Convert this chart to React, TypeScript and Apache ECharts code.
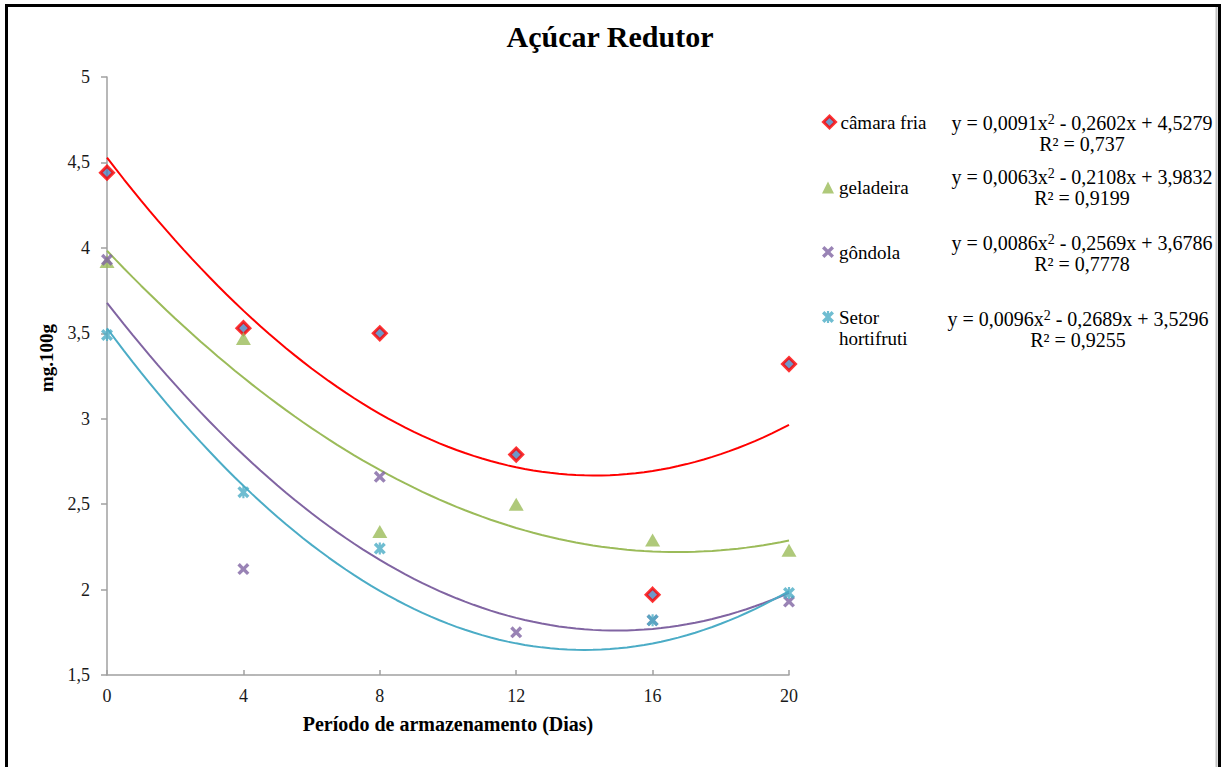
import React, { useEffect, useRef } from "react";
import * as echarts from "echarts";

// Storage period in days
const days = [0, 4, 8, 12, 16, 20];

// Reducing sugar (mg.100g) per storage condition
const camaraFria = [4.44, 3.53, 3.5, 2.79, 1.97, 3.32];
const geladeira = [3.92, 3.47, 2.34, 2.5, 2.29, 2.23];
const gondola = [3.93, 2.12, 2.66, 1.75, 1.82, 1.93];
const setorHortifruti = [3.49, 2.57, 2.24, 1.38, 1.82, 1.98];

// Quadratic trend coefficients [a, b, c] for y = a·x² + b·x + c, with R²
const trendCamara = [0.0091, -0.2602, 4.5279];
const trendGeladeira = [0.0063, -0.2108, 3.9832];
const trendGondola = [0.0086, -0.2569, 3.6786];
const trendSetor = [0.0096, -0.2689, 3.5296];
const r2Values = ["0,737", "0,9199", "0,7778", "0,9255"];

const seriesNames = ["câmara fria", "geladeira", "gôndola", "Setor hortifruti"];
const yTicks = [1.5, 2, 2.5, 3, 3.5, 4, 4.5, 5];

const FONT = "Liberation Serif";
const COLORS = ["#ff0000", "#9bbb59", "#8064a2", "#4bacc6"];

// Marker shapes
const X_PATH =
  "path://M0,2 L2,0 L5,3 L8,0 L10,2 L7,5 L10,8 L8,10 L5,7 L2,10 L0,8 L3,5 Z";
const STAR_PATH =
  "path://M0,2 L2,0 L5,3 L8,0 L10,2 L7,5 L10,8 L8,10 L5,7 L2,10 L0,8 L3,5 Z M4.1,0 L5.9,0 L5.9,10 L4.1,10 Z";

const fmt = (v: number, digits: number) => v.toFixed(digits).replace(".", ",");

function trendPoints(coef: number[]): number[][] {
  const pts: number[][] = [];
  for (let i = 0; i <= 80; i++) {
    const x = (i * 20) / 80;
    pts.push([x, coef[0] * x * x + coef[1] * x + coef[2]]);
  }
  return pts;
}

function equationRich(coef: number[]): string {
  const a = fmt(coef[0], 4);
  const b = fmt(Math.abs(coef[1]), 4);
  const c = fmt(coef[2], 4);
  return `{n|y = ${a}x}{s|2}{n| - ${b}x + ${c}}`;
}

export default function App() {
  const ref = useRef<HTMLDivElement>(null);

  useEffect(() => {
    if (!ref.current) return;
    const chart = echarts.init(ref.current, undefined, { renderer: "svg" });

    const pairs = (vals: number[]) => days.map((d, i) => [d, vals[i]]);
    const dataSets = [camaraFria, geladeira, gondola, setorHortifruti];
    const trends = [trendCamara, trendGeladeira, trendGondola, trendSetor];

    const markerStyles: any[] = [
      {
        symbol: "diamond",
        symbolSize: 13,
        itemStyle: { color: "#4a7ebb", borderColor: "#ff0000", borderWidth: 3 },
      },
      { symbol: "triangle", symbolSize: [15, 13], itemStyle: { color: "#9bbb59" } },
      { symbol: X_PATH, symbolSize: 12, itemStyle: { color: "#8064a2" } },
      { symbol: STAR_PATH, symbolSize: 12, itemStyle: { color: "#4bacc6" } },
    ];

    const scatterSeries = dataSets.map((vals, i) => ({
      name: seriesNames[i],
      type: "scatter",
      data: pairs(vals),
      clip: true,
      z: 3,
      ...markerStyles[i],
    }));

    const trendSeries = trends.map((coef, i) => ({
      name: seriesNames[i] + " (tendência)",
      type: "line",
      data: trendPoints(coef),
      showSymbol: false,
      smooth: false,
      z: 2,
      lineStyle: { color: COLORS[i], width: 2 },
      silent: true,
    }));

    const legendText = {
      fontFamily: FONT,
      fontSize: 19,
      color: "#000",
      lineHeight: 21,
    };
    // icon centres: 122, 187.5, 252, 317 (item height equals text block height)
    const legendTops = [111.5, 177, 241.5, 285.5];
    const legends = seriesNames.map((name, i) => ({
      show: true,
      left: 822,
      top: legendTops[i],
      padding: 0,
      itemWidth: 12,
      itemHeight: 12,
      itemGap: 5,
      selectedMode: false,
      data: [
        {
          name,
          icon: markerStyles[i].symbol,
          itemStyle: markerStyles[i].itemStyle,
          textStyle: legendText,
        },
      ],
      formatter: (n: string) => (n === "Setor hortifruti" ? "\nSetor\nhortifruti" : n),
      textStyle: legendText,
    }));

    const eqY = [123, 177, 243, 319];
    const eqX = [1082, 1082, 1082, 1078];
    const graphics: any[] = [
      // outer frame
      {
        type: "rect",
        shape: { x: 6.5, y: 5.5, width: 1213, height: 820 },
        style: { fill: "none", stroke: "#000", lineWidth: 3 },
        silent: true,
      },
      {
        type: "line",
        shape: { x1: 1216.5, y1: 7, x2: 1216.5, y2: 767 },
        style: { stroke: "#c0c0c0", lineWidth: 2 },
        silent: true,
      },
      // y-axis title
      {
        type: "text",
        x: 46,
        y: 358,
        rotation: Math.PI / 2,
        style: {
          text: "mg.100g",
          align: "center",
          verticalAlign: "middle",
          fontFamily: FONT,
          fontSize: 19,
          fontWeight: "bold",
          fill: "#000",
        },
      },
    ];
    trends.forEach((coef, i) => {
      graphics.push({
        type: "text",
        x: eqX[i],
        y: eqY[i],
        style: {
          text: equationRich(coef),
          align: "center",
          verticalAlign: "middle",
          rich: {
            n: { fontFamily: FONT, fontSize: 20, color: "#000", lineHeight: 22 },
            s: {
              fontFamily: FONT,
              fontSize: 14,
              color: "#000",
              lineHeight: 22,
              verticalAlign: "top",
            },
          },
        },
      });
      graphics.push({
        type: "text",
        x: eqX[i],
        y: eqY[i] + 21,
        style: {
          text: `R² = ${r2Values[i]}`,
          align: "center",
          verticalAlign: "middle",
          fontFamily: FONT,
          fontSize: 20,
          fill: "#000",
        },
      });
    });

    chart.setOption({
      animation: false,
      backgroundColor: "#fff",
      title: {
        text: "Açúcar Redutor",
        left: 605,
        textAlign: "center",
        top: 16,
        textStyle: { fontFamily: FONT, fontSize: 30, fontWeight: "bold", color: "#000" },
      },
      grid: { left: 107, right: 434, top: 77, bottom: 92 },
      xAxis: {
        type: "value",
        min: 0,
        max: 20,
        interval: 4,
        name: "Período de armazenamento (Dias)",
        nameLocation: "middle",
        nameGap: 39,
        nameTextStyle: { fontFamily: FONT, fontSize: 20, fontWeight: "bold", color: "#000" },
        axisLine: { show: true, onZero: false, lineStyle: { color: "#a0a0a0", width: 1.5 } },
        axisTick: { show: true, inside: true, length: 5, lineStyle: { color: "#a0a0a0", width: 1.5 } },
        axisLabel: { margin: 12, fontFamily: FONT, fontSize: 18, color: "#1a1a1a" },
        splitLine: { show: false },
      },
      yAxis: {
        type: "value",
        min: yTicks[0],
        max: yTicks[yTicks.length - 1],
        interval: 0.5,
        axisLine: { show: true, lineStyle: { color: "#a0a0a0", width: 1.5 } },
        axisTick: { show: true, length: 6, lineStyle: { color: "#a0a0a0", width: 1.5 } },
        axisLabel: {
          margin: 17,
          fontFamily: FONT,
          fontSize: 18,
          color: "#1a1a1a",
          formatter: (v: number) => String(v).replace(".", ","),
        },
        splitLine: { show: false },
      },
      legend: legends,
      graphic: graphics,
      series: [...trendSeries, ...scatterSeries],
    });

    return () => chart.dispose();
  }, []);

  return (
    <div
      ref={ref}
      style={{ position: "fixed", left: 0, top: 0, width: 1223, height: 767 }}
    />
  );
}
